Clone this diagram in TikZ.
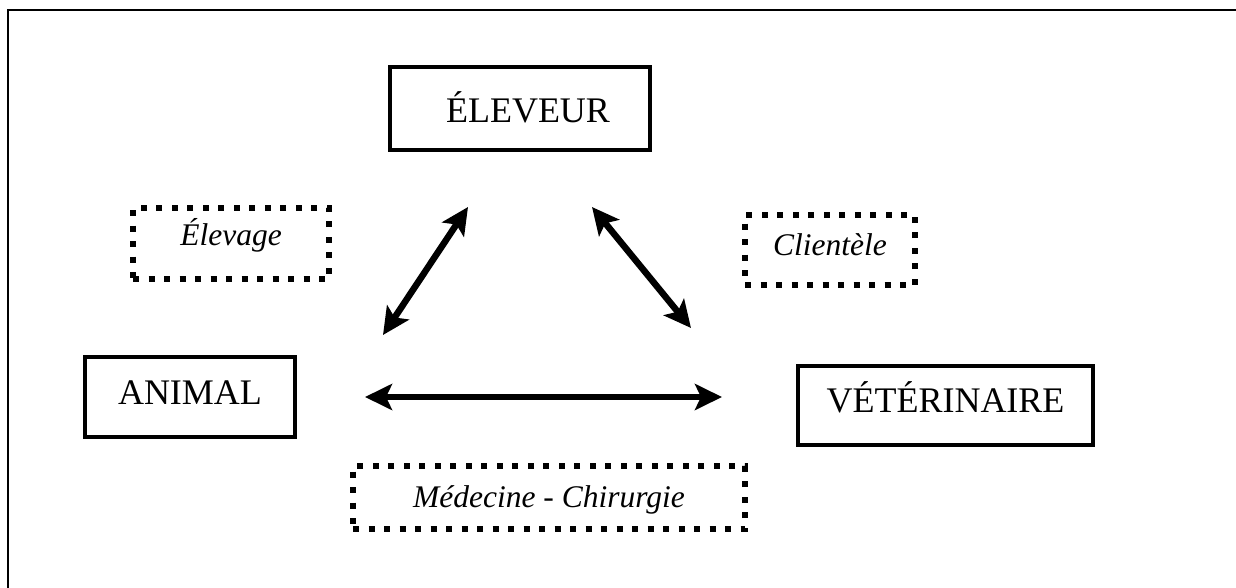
\documentclass[tikz,border=0pt]{standalone}
\usepackage{fontspec}
\setmainfont{Liberation Serif}
\usetikzlibrary{arrows.meta}

\begin{document}
\begin{tikzpicture}[
    x=1pt, y=-1pt,
    actor/.style={rectangle, draw=black, line width=4.5pt, inner sep=0pt, font=\fontsize{36}{40}\selectfont},
    relation/.style={rectangle, draw=black, line width=6pt, dash pattern=on 6pt off 9.5pt, inner sep=0pt, font=\fontsize{31.5}{36}\selectfont\itshape},
    arrow/.style={{Stealth[length=27pt, width=26pt, inset=6pt]}-{Stealth[length=27pt, width=26pt, inset=6pt]}, line width=6.5pt}
]
\useasboundingbox (0,0) rectangle (1236,588);

% Frame
\draw[line width=2pt] (8,588) -- (8,10) -- (1236,10);

% Actors
\node[actor, minimum width=260pt, text height=56pt, text depth=27pt] (eleveur) at (520,108.5) {\hspace*{16pt}ÉLEVEUR};
\node[actor, minimum width=210pt, text height=47pt, text depth=33pt] (animal) at (190,397) {ANIMAL};
\node[actor, minimum width=295pt, text height=46pt, text depth=33pt] (veto) at (945.5,405.5) {VÉTÉRINAIRE};

% Relations
\node[relation, minimum width=196pt, text height=37pt, text depth=34pt] (elevage) at (231,243.5) {Élevage};
\node[relation, minimum width=170pt, text height=40pt, text depth=30pt] (clientele) at (830,250) {Clientèle};
\node[relation, minimum width=392pt, text height=41pt, text depth=22pt] (medecine) at (549,497.5) {Médecine - Chirurgie};

% Arrow ends
\coordinate (animal-top) at (383,335);
\coordinate (eleveur-left) at (468,207);
\coordinate (eleveur-right) at (592,207);
\coordinate (veto-top) at (691,328);
\coordinate (animal-right) at (365,397);
\coordinate (veto-left) at (722,397);

% Arrows
\draw[arrow] (animal-top) -- (eleveur-left);
\draw[arrow] (eleveur-right) -- (veto-top);
\draw[arrow] (animal-right) -- (veto-left);

\end{tikzpicture}
\end{document}
